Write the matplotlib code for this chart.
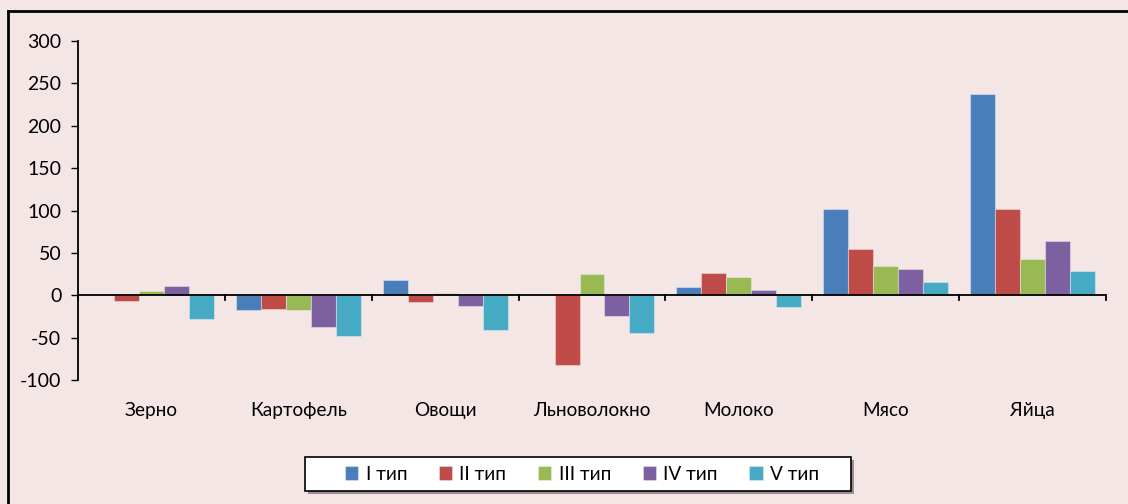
import matplotlib.pyplot as plt
import numpy as np
from matplotlib.lines import Line2D
from matplotlib.patches import Rectangle

plt.rcParams["font.family"] = ["Lato", "DejaVu Sans"]
plt.rcParams["axes.unicode_minus"] = False

categories = ["Зерно", "Картофель", "Овощи", "Льноволокно", "Молоко", "Мясо", "Яйца"]
series_names = ["I тип", "II тип", "III тип", "IV тип", "V тип"]
type_1 = [0, -17, 18.5, 0, 9.5, 101.5, 238]
type_2 = [-6.5, -16, -7.5, -82, 26, 54, 101.5]
type_3 = [4.5, -17, 2.5, 25, 21.5, 35, 42.5]
type_4 = [10.5, -38, -13, -25, 6.5, 31, 64]
type_5 = [-28, -47.5, -40.5, -44, -14, 15.5, 28.5]
colors = ["#4A7EBB", "#BE4B48", "#98B954", "#7D60A0", "#46AAC5"]

W, H = 1128, 504
fig = plt.figure(figsize=(W / 100, H / 100), dpi=100, facecolor="#F5E6E6")
ax = fig.add_axes([78 / W, 1 - 380 / H, (1106 - 78) / W, (380 - 41) / H])
ax.set_facecolor("none")

x = np.arange(len(categories))
bar_w = 0.17
all_series = [type_1, type_2, type_3, type_4, type_5]
for i, (vals, name, col) in enumerate(zip(all_series, series_names, colors)):
    ax.bar(x + (i - 2) * bar_w, vals, bar_w, color=col, label=name,
           edgecolor=(1, 1, 1, 0.35), linewidth=0.8, zorder=2)

ax.set_xlim(-0.5, len(categories) - 0.5)
ax.set_ylim(-100, 300)
ax.set_yticks(range(-100, 301, 50))
ax.tick_params(axis="y", direction="out", length=5, width=1, labelsize=14, pad=7)

# zero line with category boundary ticks
ax.axhline(0, color="black", linewidth=1.3, zorder=3)
for b in np.arange(-0.5, len(categories), 1.0):
    ax.plot([b, b], [0, -6], color="black", linewidth=1.3, zorder=3, clip_on=False)

ax.set_xticks(x)
ax.set_xticklabels(categories, fontsize=13.7)
ax.tick_params(axis="x", length=0, pad=16)
for s in ["top", "right", "bottom"]:
    ax.spines[s].set_visible(False)
ax.spines["left"].set_linewidth(1.3)

# outer chart frame
fig.add_artist(Line2D([8 / W, 1], [1 - 11 / H, 1 - 11 / H], color="black", linewidth=2))
fig.add_artist(Line2D([8 / W, 8 / W], [0, 1 - 11 / H], color="black", linewidth=2))

# legend box with a soft shadow, legend entries placed inside
fig.add_artist(Rectangle((308 / W, 1 - 494 / H), (851 - 305) / W, 34 / H,
                         transform=fig.transFigure, facecolor="#9A9090",
                         edgecolor="none", zorder=4))
fig.add_artist(Rectangle((305 / W, 1 - 491 / H), (851 - 305) / W, 34 / H,
                         transform=fig.transFigure, facecolor="white",
                         edgecolor="black", linewidth=1.2, zorder=5))
leg = fig.legend(loc="center", bbox_to_anchor=(582 / W, 1 - 474 / H), ncol=5,
                 fontsize=13.7, frameon=False,
                 handlelength=0.7, handleheight=0.7, handletextpad=0.4,
                 columnspacing=1.65)
leg.set_zorder(6)

fig.savefig("out.png", dpi=100, facecolor=fig.get_facecolor())
